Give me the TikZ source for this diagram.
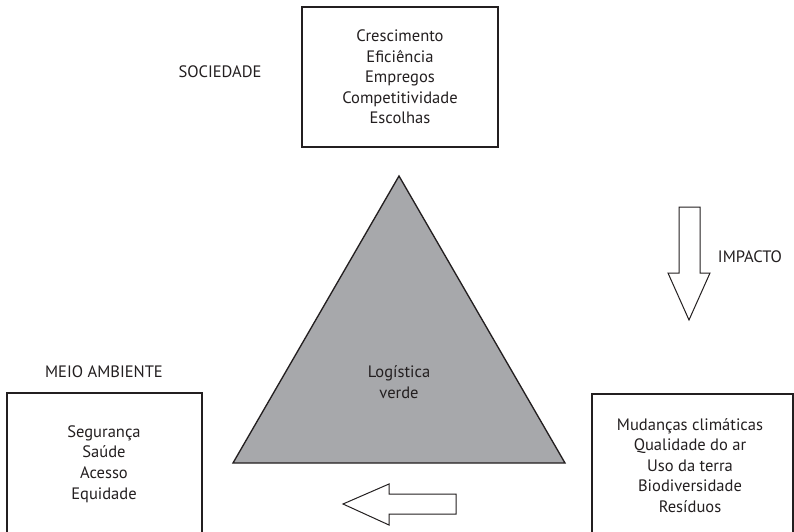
\documentclass[tikz,border=0pt]{standalone}
\usepackage{fontspec}
\setmainfont{PT Sans}
\definecolor{ink}{HTML}{231F20}
\definecolor{triFill}{HTML}{A7A8AB}
\begin{document}
\begin{tikzpicture}[x=0.75pt,y=-0.75pt,
  every node/.style={text=ink,font=\fontsize{12.4}{15.4}\selectfont},
  frame/.style={draw=ink,line width=0.9pt,fill=white},
  panel/.style={draw=ink,line width=0.9pt,inner sep=0pt,minimum width=#1},
  list/.style={align=center,inner sep=0pt},
  caption/.style={inner sep=0pt},
  blockarrow/.style={draw=ink,line width=0.75pt,fill=white,line join=miter}]
\clip (0,0) rectangle (794,532);
\fill[white] (0,0) rectangle (794,532);

% society box (top)
\draw[frame] (302,7) rectangle (498,147);
\node[list] (soc) at (400,77) {Crescimento\\Eficiência\\Empregos\\Competitividade\\Escolhas};
\node[caption] (socl) at (220,72) {SOCIEDADE};

% environment box (bottom left)
\draw[frame] (7,393) rectangle (202,560);
\node[list] (env) at (104,464) {Segurança\\Saúde\\Acesso\\Equidade};
\node[caption] (envl) at (104,372) {MEIO AMBIENTE};

% impact box (bottom right)
\draw[frame] (592,394) rectangle (793,560);
\node[list] (imp) at (690,465.5) {Mudanças climáticas\\Qualidade do ar\\Uso da terra\\Biodiversidade\\Resíduos};

% central triangle
\draw[draw=ink,line width=1pt,fill=triFill,line join=miter] (399,176) -- (233,463) -- (565,463) -- cycle;
\node[list] (core) at (399,382) {Logística\\verde};

% downward block arrow
\draw[blockarrow] (679,207) -- (700,207) -- (700,273) -- (710,273) -- (689,320)
  -- (668,273) -- (679,273) -- cycle;
\node[caption] (impl) at (750,257) {IMPACTO};

% leftward block arrow
\draw[blockarrow] (456,494) -- (389,494) -- (389,484) -- (343,504) -- (389,525)
  -- (389,514) -- (456,514) -- cycle;
\end{tikzpicture}
\end{document}
